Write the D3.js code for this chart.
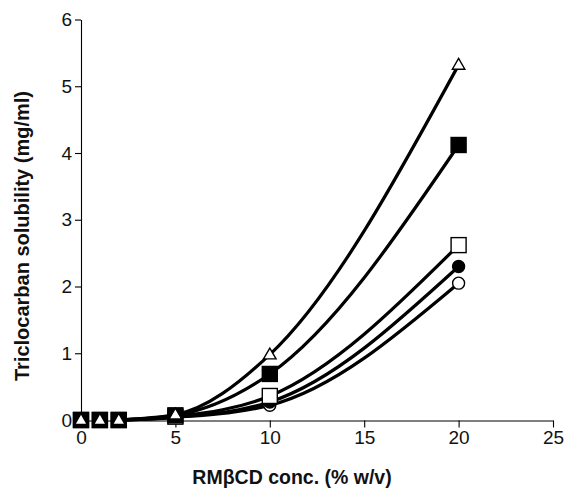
<!DOCTYPE html>
<html>
<head>
<meta charset="utf-8">
<script src="https://cdn.jsdelivr.net/npm/d3@7"></script>
<style>
  html, body { margin: 0; padding: 0; background: #fff; }
  svg { display: block; }
  text { font-family: "Liberation Sans", Arial, Helvetica, sans-serif; fill: #111; }
</style>
</head>
<body>
<svg id="chart" width="564" height="489"></svg>
<script>
// RMβCD concentration (% w/v) at which solubility was measured
const concentrations = [0, 1, 2, 5, 10, 20];

// Triclocarban solubility (mg/ml) for each series
const openTriangle = [0, 0, 0, 0.08, 0.98, 5.32];
const filledSquare = [0, 0, 0, 0.07, 0.69, 4.12];
const openSquare   = [0, 0, 0, 0.05, 0.36, 2.62];
const filledCircle = [0, 0, 0, 0.04, 0.27, 2.30];
const openCircle   = [0, 0, 0, 0.04, 0.22, 2.05];

const xTicks = [0, 5, 10, 15, 20, 25];
const yTicks = [0, 1, 2, 3, 4, 5, 6];

// drawn bottom-most first so the triangle series sits on top
const series = [
  { values: openCircle,   shape: "circle",   fill: "#fff" },
  { values: filledCircle, shape: "circle",   fill: "#000" },
  { values: openSquare,   shape: "square",   fill: "#fff" },
  { values: filledSquare, shape: "square",   fill: "#000" },
  { values: openTriangle, shape: "triangle", fill: "#fff" }
];

const svg = d3.select("#chart");
const margin = { top: 19.5, right: 11, bottom: 69, left: 81 };
const W = 564, H = 489;

const x = d3.scaleLinear().domain([0, 25]).range([margin.left, W - margin.right]);
const y = d3.scaleLinear().domain([0, 6]).range([H - margin.bottom, margin.top]);

// axes
const xAxis = svg.append("g")
  .attr("transform", `translate(0,${y(0) + 0.5})`)
  .call(d3.axisBottom(x).tickValues(xTicks).tickFormat(d3.format("d"))
    .tickSize(7).tickSizeOuter(0).tickPadding(3));
const yAxis = svg.append("g")
  .attr("transform", `translate(${x(0)},0)`)
  .call(d3.axisLeft(y).tickValues(yTicks).tickFormat(d3.format("d"))
    .tickSize(6).tickSizeOuter(0).tickPadding(3));

[xAxis, yAxis].forEach(g => {
  g.selectAll("path, line").attr("stroke", "#000").attr("stroke-width", 1.1);
  g.selectAll("text").style("font-size", "19px").attr("fill", "#111");
});

// smoothed curves through the rising part of each series
const line = d3.line()
  .x(d => x(d[0]))
  .y(d => y(d[1]))
  .curve(d3.curveMonotoneX);

series.forEach(s => {
  const pts = concentrations.map((c, i) => [c, s.values[i]]).filter(d => d[0] >= 2);
  svg.append("path")
    .datum(pts)
    .attr("d", line)
    .attr("fill", "none")
    .attr("stroke", "#000")
    .attr("stroke-width", 3.2)
    .attr("stroke-linejoin", "round");
});

// markers
const sq = 15, tri = 12.5, rad = 6;
series.forEach(s => {
  const g = svg.append("g");
  concentrations.forEach((c, i) => {
    const cx = x(c), cy = y(s.values[i]);
    let m;
    if (s.shape === "square") {
      m = g.append("rect")
        .attr("x", cx - sq / 2).attr("y", cy - sq / 2)
        .attr("width", sq).attr("height", sq);
    } else if (s.shape === "circle") {
      m = g.append("circle").attr("cx", cx).attr("cy", cy).attr("r", rad);
    } else {
      const h = tri * Math.sqrt(3) / 2;
      m = g.append("path")
        .attr("d", `M${cx},${cy - h * 0.6}L${cx + tri / 2},${cy + h * 0.4}L${cx - tri / 2},${cy + h * 0.4}Z`);
    }
    m.attr("fill", s.fill).attr("stroke", "#000").attr("stroke-width", 1.4);
  });
});

// axis titles
svg.append("text")
  .attr("x", 292).attr("y", 484)
  .attr("text-anchor", "middle")
  .style("font-size", "19.5px").style("font-weight", "bold")
  .text("RMβCD conc. (% w/v)");

svg.append("text")
  .attr("transform", `translate(29,236) rotate(-90)`)
  .attr("text-anchor", "middle")
  .style("font-size", "20px").style("font-weight", "bold")
  .text("Triclocarban solubility (mg/ml)");
</script>
</body>
</html>
